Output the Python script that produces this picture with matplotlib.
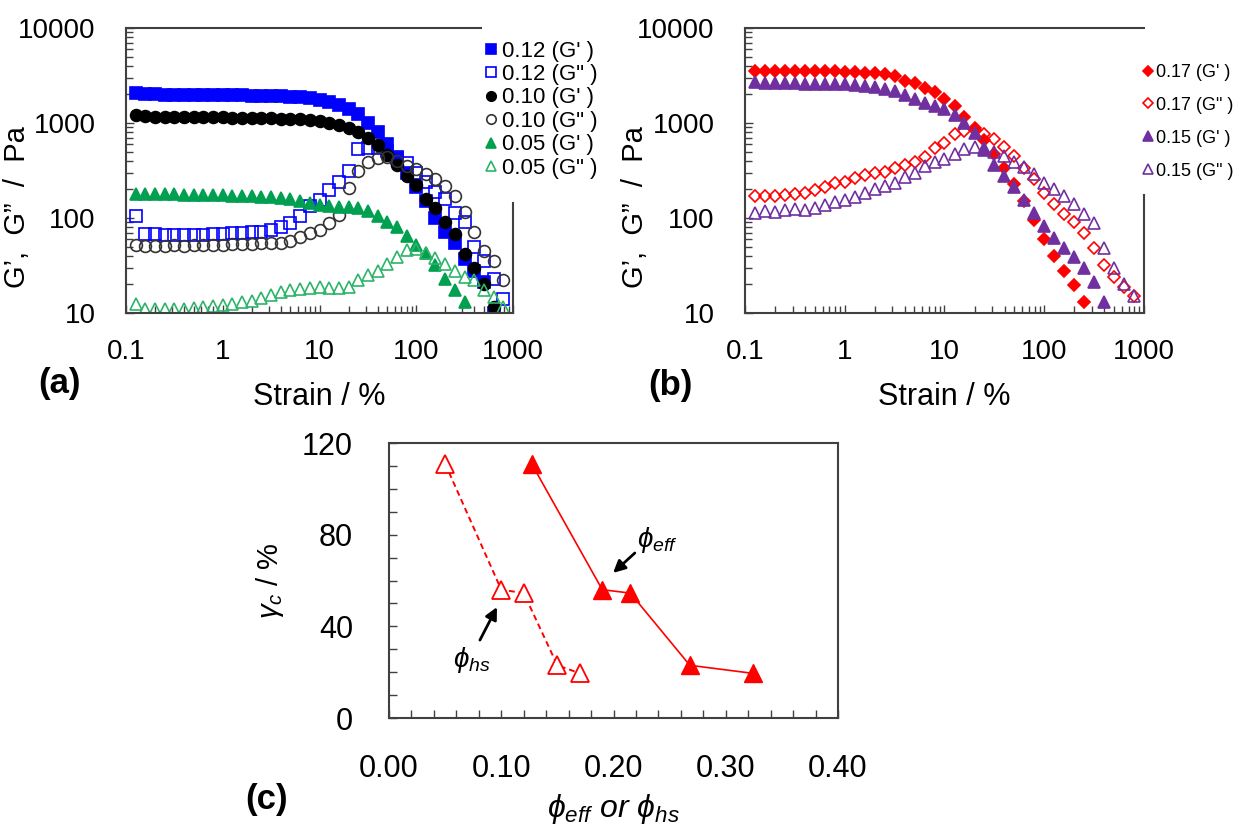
import numpy as np
import matplotlib
matplotlib.use('Agg')
import matplotlib.pyplot as plt
from matplotlib.ticker import FixedLocator, FixedFormatter, NullFormatter, LogLocator, MultipleLocator

plt.rcParams['font.family'] = ['Liberation Sans', 'DejaVu Sans']
plt.rcParams['mathtext.fontset'] = 'custom'
plt.rcParams['mathtext.rm'] = 'Liberation Sans'
plt.rcParams['mathtext.it'] = 'Liberation Sans:italic'
plt.rcParams['mathtext.fallback'] = 'cm'

# strain sweep, 10 points per decade
strain = [0.126, 0.158, 0.2, 0.251, 0.316, 0.398, 0.501, 0.631, 0.794, 1.0,
          1.26, 1.58, 2.0, 2.51, 3.16, 3.98, 5.01, 6.31, 7.94, 10.0,
          12.6, 15.8, 20.0, 25.1, 31.6, 39.8, 50.1, 63.1, 79.4, 100,
          126, 158, 200, 251, 316, 398, 501, 631, 794]

# panel (a)
g1_012 = [2050, 2000, 2000, 1980, 1980, 1970, 1970, 1960, 1960, 1950,
          1950, 1950, 1940, 1940, 1930, 1920, 1900, 1880, 1850, 1750,
          1650, 1550, 1420, 1250, 1000, 800, 600, 430, 300, 210,
          150, 100, 72, 55, 37, 28, 21, 10]
g2_012 = [105, 68, 68, 67, 66, 66, 67, 67, 68, 68,
          69, 70, 71, 72, 74, 80, 88, 105, 135, 155,
          195, 240, 310, 530, 550, 540, 510, 440, 380, 300,
          240, 190, 160, 112, 90, 50, 35, 23, 14]
g1_010 = [1200, 1180, 1170, 1170, 1160, 1160, 1150, 1150, 1150, 1150,
          1140, 1140, 1130, 1130, 1120, 1110, 1100, 1090, 1070, 1040,
          1000, 950, 890, 810, 690, 580, 460, 360, 280, 220,
          160, 128, 90, 68, 42, 30, 20, 11.5]
g2_010 = [52, 51, 51, 51, 52, 51, 52, 52, 52, 52,
          53, 53, 53, 54, 54, 55, 57, 63, 69, 75,
          89, 107, 205, 310, 385, 430, 440, 400, 355, 325,
          290, 255, 215, 170, 115, 72, 45, 35, 22]
g1_005 = [180, 178, 178, 177, 177, 176, 176, 175, 175, 174,
          172, 171, 170, 168, 166, 163, 158, 152, 145, 138,
          135, 132, 130, 126, 118, 104, 90, 80, 64, 52,
          43, 32, 23, 17.5, 13]
g2_005 = [12.5, 11, 11, 11, 11, 11, 11.2, 11.5, 11.8, 12,
          12.5, 13, 13.5, 14.5, 15.5, 16.5, 17.5, 18, 18.5, 19,
          18.5, 18.5, 19, 22, 25, 28, 33, 39, 46, 47,
          43, 38, 33, 28, 24, 22, 17.5, 14.8, 11.6]

# panel (b)
g1_017 = [3550, 3550, 3550, 3550, 3550, 3550, 3500, 3500, 3500, 3450,
          3450, 3400, 3350, 3300, 3100, 2800, 2650, 2350, 2100, 1800,
          1500, 1150, 880, 660, 470, 340, 230, 150, 95, 60,
          40, 28, 19.5, 13]
g2_017 = [170, 172, 172, 175, 178, 182, 197, 214, 232, 240,
          262, 282, 295, 307, 333, 365, 390, 440, 540, 620,
          760, 820, 850, 760, 680, 560, 450, 340, 260, 185,
          140, 110, 90, 70, 48, 32, 24, 19, 15]
g1_015 = [2700, 2650, 2650, 2620, 2620, 2600, 2600, 2600, 2580, 2550,
          2520, 2480, 2400, 2300, 2150, 1950, 1780, 1620, 1500, 1420,
          1200, 1000, 780, 520, 360, 280, 210, 155, 112, 82,
          62, 48, 39, 30, 21, 13]
g2_015 = [112, 118, 115, 120, 125, 122, 128, 137, 149, 155,
          168, 185, 200, 218, 235, 270, 300, 350, 385, 420,
          470, 530, 560, 540, 500, 450, 390, 345, 290, 235,
          200, 170, 140, 110, 88, 48, 30, 20, 15]

# panel (c)
phi_eff = [0.127, 0.19, 0.215, 0.268, 0.324]
phi_hs = [0.05, 0.10, 0.12, 0.15, 0.17]
gamma_c = [111, 56, 54.5, 23, 19.5]

BLUE = '#0000FF'
GREEN = '#00A050'
GREEN2 = '#2DB36A'
RED = '#FF0000'
PURPLE = '#7030A0'
SPINE = '#404040'

W, H = 1239, 825
fig = plt.figure(figsize=(W / 100, H / 100), dpi=100)
ax_a = fig.add_axes([126 / W, 1 - 313 / H, 387 / W, 285 / H])
ax_b = fig.add_axes([745 / W, 1 - 313 / H, 399 / W, 285 / H])
ax_c = fig.add_axes([389 / W, 1 - 718 / H, 449 / W, 275 / H])


def series(ax, y, marker, color, filled, ms, label):
    x = strain[:len(y)]
    ax.plot(x, y, linestyle='none', marker=marker, markersize=ms,
            markerfacecolor=color if filled else 'none',
            markeredgecolor=color, markeredgewidth=1.2, label=label)


def style_log(ax, right_top, top_right):
    ax.set_xscale('log')
    ax.set_yscale('log')
    ax.set_xlim(0.1, 1000)
    ax.set_ylim(10, 10000)
    ax.xaxis.set_major_locator(FixedLocator([0.1, 1, 10, 100, 1000]))
    ax.xaxis.set_major_formatter(FixedFormatter(['0.1', '1', '10', '100', '1000']))
    ax.yaxis.set_major_locator(FixedLocator([10, 100, 1000, 10000]))
    ax.yaxis.set_major_formatter(FixedFormatter(['10', '100', '1000', '10000']))
    ax.xaxis.set_minor_locator(LogLocator(subs=np.arange(2, 10)))
    ax.yaxis.set_minor_locator(LogLocator(subs=np.arange(2, 10)))
    ax.xaxis.set_minor_formatter(NullFormatter())
    ax.yaxis.set_minor_formatter(NullFormatter())
    ax.tick_params(which='both', direction='in', top=False, right=False,
                   color=SPINE, width=1.0)
    ax.tick_params(which='major', length=6)
    ax.tick_params(which='minor', length=5)
    ax.tick_params(axis='x', which='major', labelsize=20, pad=19)
    ax.tick_params(axis='y', which='major', labelsize=20, pad=22)
    for s in ax.spines.values():
        s.set_color(SPINE)
        s.set_linewidth(1.5)
    ax.spines['right'].set_bounds(10, right_top)
    ax.spines['top'].set_bounds(0.1, top_right)
    ax.set_xlabel('Strain / %', fontsize=22, labelpad=12)
    ax.set_ylabel('G\u2019,  G\u201d  /  Pa', fontsize=21)


# (a)
series(ax_a, g1_012, 's', BLUE, True, 8.5, "0.12 (G' )")
series(ax_a, g2_012, 's', BLUE, False, 8.5, '0.12 (G" )')
series(ax_a, g1_010, 'o', 'black', True, 8.5, "0.10 (G' )")
series(ax_a, g2_010, 'o', '#333333', False, 8.5, '0.10 (G" )')
series(ax_a, g1_005, '^', GREEN, True, 8.5, "0.05 (G' )")
series(ax_a, g2_005, '^', GREEN2, False, 8.5, '0.05 (G" )')
style_log(ax_a, 145, 467)
ax_a.yaxis.set_label_coords(-0.245, 0.37)
ax_a.legend(loc='upper left', bbox_to_anchor=(469 / W, 1 - 25 / H),
            bbox_transform=fig.transFigure, fontsize=16, frameon=True,
            facecolor='white', edgecolor='none', framealpha=1,
            handlelength=0.6, handletextpad=0.2, labelspacing=0.11,
            borderpad=0.2, markerscale=0.8)

# (b)
series(ax_b, g1_017, 'D', RED, True, 6.5, "0.17 (G' )")
series(ax_b, g2_017, 'D', RED, False, 6.5, '0.17 (G" )')
series(ax_b, g1_015, '^', PURPLE, True, 9, "0.15 (G' )")
series(ax_b, g2_015, '^', PURPLE, False, 9, '0.15 (G" )')
style_log(ax_b, 175, 1000)
ax_b.yaxis.set_label_coords(-0.24, 0.37)
ax_b.legend(loc='upper left', bbox_to_anchor=(1133 / W, 1 - 53 / H),
            bbox_transform=fig.transFigure, fontsize=13, frameon=True,
            facecolor='white', edgecolor='none', framealpha=1,
            handlelength=0.5, handletextpad=0.15, labelspacing=0.88,
            borderpad=0.1, markerscale=0.8)

# (c)
ax_c.plot(phi_eff, gamma_c, color=RED, lw=1.2, marker='^', markersize=13,
          markerfacecolor=RED, markeredgecolor=RED)
ax_c.plot(phi_hs, gamma_c, color=RED, lw=1.4, linestyle=(0, (3, 2)), marker='^',
          markersize=13, markerfacecolor='white', markeredgecolor=RED,
          markeredgewidth=1.3)
ax_c.set_xlim(0, 0.4)
ax_c.set_ylim(0, 120)
ax_c.xaxis.set_major_locator(FixedLocator([0, 0.1, 0.2, 0.3, 0.4]))
ax_c.xaxis.set_major_formatter(FixedFormatter(['0.00', '0.10', '0.20', '0.30', '0.40']))
ax_c.xaxis.set_minor_locator(MultipleLocator(0.02))
ax_c.yaxis.set_major_locator(MultipleLocator(40))
ax_c.yaxis.set_minor_locator(MultipleLocator(10))
ax_c.tick_params(which='both', direction='in', top=False, right=False,
                 color=SPINE, length=6, width=1.0)
ax_c.tick_params(axis='x', which='major', labelsize=22, pad=26)
ax_c.tick_params(axis='y', which='major', labelsize=22, pad=26)
for s in ax_c.spines.values():
    s.set_color(SPINE)
    s.set_linewidth(1.5)
ax_c.set_ylabel(r'$\gamma_c$ / %', fontsize=21)
ax_c.yaxis.set_label_coords(-0.23, 0.5)
ax_c.set_xlabel(r'$\phi_{eff}$ or $\phi_{hs}$', fontsize=23, fontstyle='italic',
                labelpad=6)

# arrows and their labels
arrow = dict(arrowstyle='-|>', color='black', lw=2.0, mutation_scale=18,
             shrinkA=0, shrinkB=0)
ax_c.annotate('', xy=(0.1996, 63.3), xytext=(0.219, 72), arrowprops=arrow)
ax_c.annotate('', xy=(0.0962, 48.4), xytext=(0.081, 34), arrowprops=arrow)
ax_c.text(0.2388, 77.7, r'$\phi_{eff}$', fontsize=20, ha='center', va='center')
ax_c.text(0.074, 25.3, r'$\phi_{hs}$', fontsize=20, ha='center', va='center')

fig.text(38 / W, 1 - 383 / H, '(a)', fontsize=25, fontweight='bold', va='center')
fig.text(648 / W, 1 - 385 / H, '(b)', fontsize=25, fontweight='bold', va='center')
fig.text(245 / W, 1 - 800 / H, '(c)', fontsize=25, fontweight='bold', va='center')

fig.savefig('out.png', dpi=100)
